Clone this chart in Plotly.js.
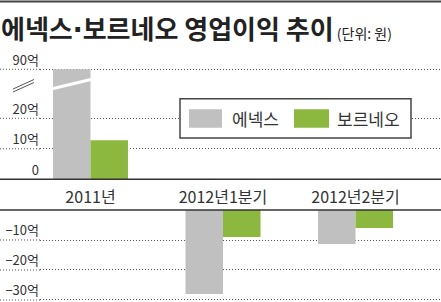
<!DOCTYPE html>
<html><head><meta charset="utf-8">
<script src="https://cdn.plot.ly/plotly-3.0.1.min.js"></script>
<style>html,body{margin:0;padding:0;background:#fff;} #chart{width:441px;height:302px;}</style>
</head><body><div id="chart"></div>
<script>
// ---- data (단위: 억원) ----
const categories = ['2011년', '2012년1분기', '2012년2분기'];
const seriesNames = ['에넥스', '보르네오'];
const enexValues = [90, -28, -11.3];
const borneoValues = [12.8, -9, -6];
const upperTickVals = [0, 10, 20];
const upperTickText = ['0', '10억', '20억'];
const topTickVals = [90];
const topTickText = ['90억'];
const lowerTickVals = [-10, -20, -30];
const lowerTickText = ['−10억', '−20억', '−30억'];
const titleParts = ['에넥스', '·', '보르네오 영업이익 추이'];
const unitText = '(단위: 원)';

// ---- layout helpers ----
const W = 441, H = 302;
const fx = px => px / W;
const fy = px => 1 - px / H;
const colors = ['#c0c0c0', '#8cb83f'];
const labelFont = 'Liberation Sans Narrow, Noto Sans CJK KR, sans-serif';

const axes = {
  y:  {range: [0, 31.25],      domain: [fy(179.3), fy(84)], vals: upperTickVals, text: upperTickText},
  y3: {range: [85.18, 91.08],  domain: [fy(84), fy(66)],    vals: topTickVals,   text: topTickText},
  y4: {range: [-30.67, 0],     domain: [0, fy(210)],        vals: lowerTickVals, text: lowerTickText}
};

const traces = [];
const seriesVals = [enexValues, borneoValues];
Object.keys(axes).forEach(ax => {
  seriesVals.forEach((vals, i) => {
    traces.push({
      type: 'bar', x: categories, y: vals, name: seriesNames[i],
      xaxis: 'x', yaxis: ax, showlegend: false, hoverinfo: 'skip',
      marker: {color: colors[i], line: {width: 0}}
    });
  });
});

const layout = {
  width: W, height: H,
  margin: {l: 0, r: 0, t: 0, b: 0},
  paper_bgcolor: '#fff', plot_bgcolor: 'rgba(0,0,0,0)',
  barmode: 'group', bargap: 0.434, bargroupgap: 0,
  showlegend: false,
  title: {
    text: titleParts[0] + '<span style="font-family:DejaVu Sans">' + titleParts[1] + '</span>' + titleParts[2] +
          '<span style="font-size:14px;font-weight:400"> ' + unitText + '</span>',
    xref: 'container', x: fx(1), xanchor: 'left',
    yref: 'container', y: fy(30), yanchor: 'middle',
    font: {family: 'Noto Sans CJK KR', size: 26, weight: 700, color: '#222'}
  },
  xaxis: {
    domain: [fx(40), 1], anchor: 'y', range: [-0.381, 2.645],
    type: 'category', showgrid: false, zeroline: false, showline: false, ticks: '',
    ticklabelstandoff: 7,
    tickfont: {family: labelFont, size: 16, color: '#333'},
    fixedrange: true
  },
  shapes: [],
  annotations: []
};

const axisKeys = {y: 'yaxis', y3: 'yaxis3', y4: 'yaxis4'};
Object.keys(axes).forEach(ax => {
  const a = axes[ax];
  layout[axisKeys[ax]] = {
    domain: a.domain, range: a.range, anchor: 'x',
    tickmode: 'array', tickvals: a.vals, ticktext: a.text,
    ticklabelposition: 'outside top', ticks: '',
    showline: false, zeroline: false,
    showgrid: true, gridcolor: '#555', gridwidth: 1, griddash: '1px,2px',
    tickfont: {family: labelFont, size: 13, color: '#333'},
    fixedrange: true
  };
  // extend dotted grid lines to the left edge
  a.vals.forEach(v => {
    if (v === 0) return;
    const f = (v - a.range[0]) / (a.range[1] - a.range[0]);
    layout.shapes.push({type: 'line', xref: 'paper', x0: 0, x1: fx(40),
      yref: ax + ' domain', y0: f, y1: f,
      line: {color: '#555', width: 1, dash: '1px,2px'}});
  });
});

// full-width solid lines
layout.shapes.push(
  {type: 'line', xref: 'paper', x0: 0, x1: 1, yref: 'paper', y0: fy(1.5), y1: fy(1.5),
   line: {color: '#444', width: 2}},
  {type: 'line', xref: 'paper', x0: 0, x1: 1, yref: 'y domain', y0: 0, y1: 0,
   line: {color: '#333', width: 1.5}},
  {type: 'line', xref: 'paper', x0: 0, x1: 1, yref: 'y4 domain', y0: 1, y1: 1,
   line: {color: '#333', width: 1.5}}
);

// axis break marks
layout.shapes.push(
  {type: 'line', xref: 'paper', yref: 'paper', x0: fx(50), y0: fy(89.2), x1: fx(94), y1: fy(78.8),
   line: {color: '#fff', width: 3}},
  {type: 'line', xref: 'paper', yref: 'paper', x0: fx(13), y0: fy(89), x1: fx(34), y1: fy(79.5),
   line: {color: '#555', width: 1}},
  {type: 'line', xref: 'paper', yref: 'paper', x0: fx(13), y0: fy(92), x1: fx(34), y1: fy(82.5),
   line: {color: '#555', width: 1}}
);

// legend box
layout.shapes.push(
  {type: 'rect', xref: 'paper', yref: 'paper', x0: fx(180), x1: fx(411), y0: fy(138), y1: fy(98.7),
   fillcolor: '#fff', line: {color: '#444', width: 1.5}},
  {type: 'rect', xref: 'paper', yref: 'paper', x0: fx(189), x1: fx(222), y0: fy(127.7), y1: fy(109.3),
   fillcolor: colors[0], line: {width: 0}},
  {type: 'rect', xref: 'paper', yref: 'paper', x0: fx(294), x1: fx(329), y0: fy(127.7), y1: fy(109.3),
   fillcolor: colors[1], line: {width: 0}}
);
layout.annotations.push(
  {text: seriesNames[0], xref: 'paper', yref: 'paper', x: fx(230), y: fy(118.5),
   xanchor: 'left', yanchor: 'middle', showarrow: false,
   font: {family: 'Noto Sans CJK KR', size: 17, color: '#333'}},
  {text: seriesNames[1], xref: 'paper', yref: 'paper', x: fx(335), y: fy(118.5),
   xanchor: 'left', yanchor: 'middle', showarrow: false,
   font: {family: 'Noto Sans CJK KR', size: 17, color: '#333'}}
);

Plotly.newPlot('chart', traces, layout, {displayModeBar: false, staticPlot: true});
</script>
</body></html>
